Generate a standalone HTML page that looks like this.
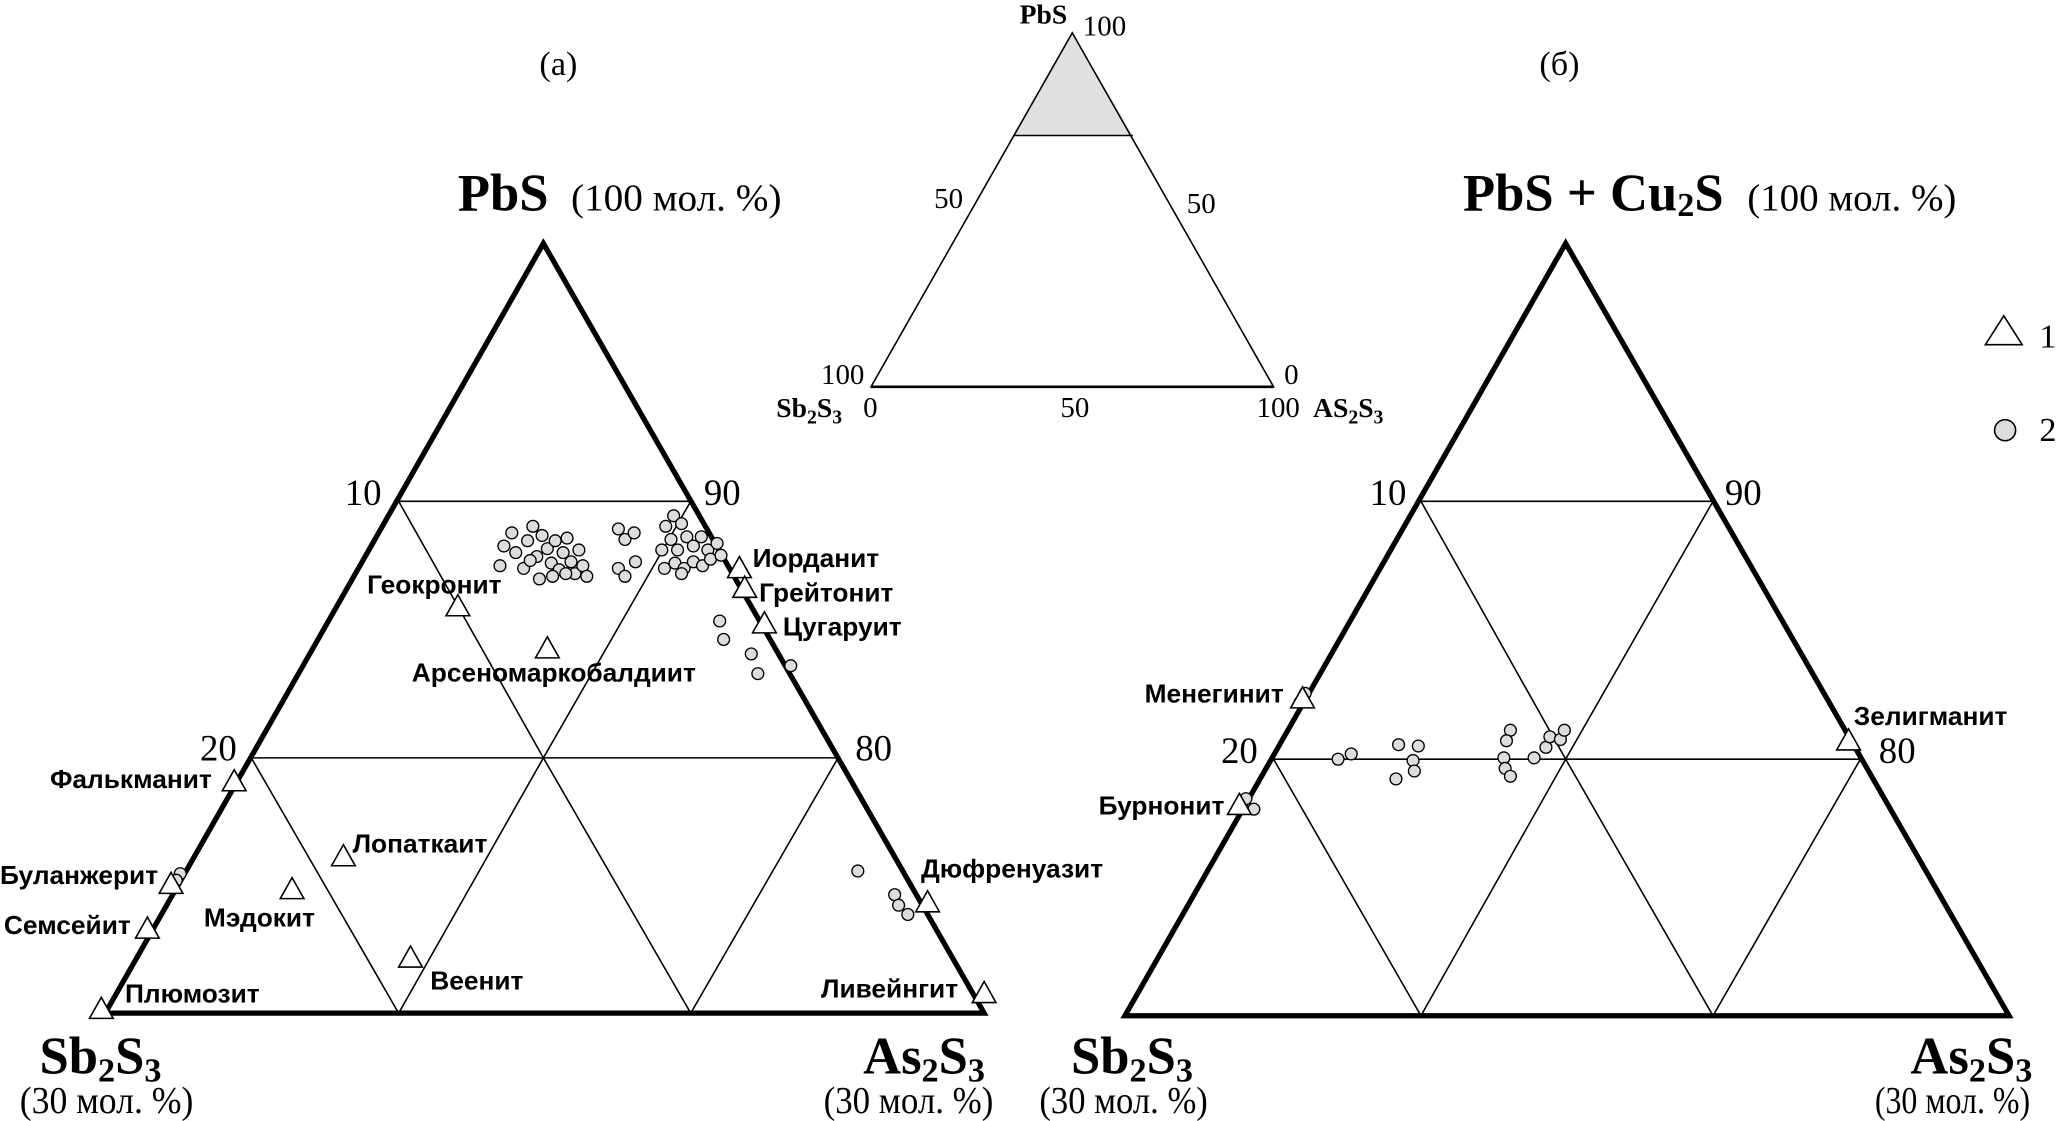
<!DOCTYPE html>
<html><head><meta charset="utf-8"><style>
html,body{margin:0;padding:0;background:#fff}
svg{display:block}
.s{font-family:"Liberation Sans",sans-serif;font-weight:bold;font-size:20px}
.r{font-family:"Liberation Serif",serif;font-size:24px}
.b{font-family:"Liberation Serif",serif;font-weight:bold;font-size:40px}
.m{font-family:"Liberation Serif",serif;font-size:29px}
</style></head><body>
<svg width="2063" height="1121" viewBox="0 0 1568 852" preserveAspectRatio="none" xmlns="http://www.w3.org/2000/svg">
<defs>
<g id="t"><polygon points="0,-9 9,7 -9,7" fill="#fff" stroke="#000" stroke-width="1.2"/></g>
<g id="c"><circle r="4.5" fill="#ddd" stroke="#000" stroke-width="1"/></g>
</defs>
<polygon points="815,25 861,103 770,103" fill="#e0e0e0"/>
<polygon points="815,25 968,294 662,294" fill="none" stroke="#000" stroke-width="1.2"/>
<line x1="770" y1="103" x2="861" y2="103" stroke="#000" stroke-width="1.2"/>
<line x1="662" y1="294" x2="968" y2="294" stroke="#000" stroke-width="2"/>
<text x="775" y="18" class="r" style="font-weight:bold;font-size:21px">PbS</text>
<text x="823" y="27" class="r" style="font-size:22px">100</text>
<text x="710" y="158" class="r" style="font-size:22px">50</text>
<text x="902" y="162" class="r" style="font-size:22px">50</text>
<text x="624" y="292" class="r" style="font-size:22px">100</text>
<text x="976" y="292" class="r" style="font-size:22px">0</text>
<text x="590" y="317" class="r" style="font-weight:bold;font-size:21px">Sb<tspan font-size="15" dy="5">2</tspan><tspan dy="-5">S</tspan><tspan font-size="15" dy="5">3</tspan></text>
<text x="656" y="317" class="r" style="font-size:22px">0</text>
<text x="806" y="317" class="r" style="font-size:22px">50</text>
<text x="955" y="317" class="r" style="font-size:22px">100</text>
<text x="998" y="317" class="r" style="font-weight:bold;font-size:21px">AS<tspan font-size="15" dy="5">2</tspan><tspan dy="-5">S</tspan><tspan font-size="15" dy="5">3</tspan></text>

<text x="410" y="57" class="m" style="font-size:26px">(а)</text>
<text x="1170" y="57" class="m" style="font-size:26px">(б)</text>

<g stroke="#000" fill="none">
<polygon points="413,185 748,770 80,770" stroke-width="4"/>
<g stroke-width="1.2">
<line x1="303" y1="381" x2="525" y2="381"/>
<line x1="191" y1="576" x2="637" y2="576"/>
<polyline points="303,381 413,576 525,381"/>
<polyline points="191,576 303,770 413,576 525,770 637,576"/>
</g>
</g>
<g stroke="#000" fill="none">
<polygon points="1190,185 1527,772 855,772" stroke-width="4"/>
<g stroke-width="1.2">
<line x1="1080" y1="381" x2="1302" y2="381"/>
<line x1="968" y1="577" x2="1414" y2="577"/>
<polyline points="1080,381 1190,577 1302,381"/>
<polyline points="968,577 1080,772 1190,577 1302,772 1414,577"/>
</g>
</g>

<text x="348" y="160" class="b">PbS</text><text x="434" y="160" class="m" textLength="160" lengthAdjust="spacingAndGlyphs">(100 мол. %)</text>
<text x="1112" y="160" class="b">PbS + Cu<tspan font-size="26" dy="4">2</tspan><tspan dy="-4">S</tspan></text><text x="1328" y="160" class="m" textLength="159" lengthAdjust="spacingAndGlyphs">(100 мол. %)</text>

<text x="30" y="816" class="b">Sb<tspan font-size="26" dy="6">2</tspan><tspan dy="-6">S</tspan><tspan font-size="26" dy="6">3</tspan></text>
<text x="15" y="846" class="m" textLength="132" lengthAdjust="spacingAndGlyphs">(30 мол. %)</text>
<text x="656" y="816" class="b">As<tspan font-size="26" dy="6">2</tspan><tspan dy="-6">S</tspan><tspan font-size="26" dy="6">3</tspan></text>
<text x="626" y="846" class="m" textLength="129" lengthAdjust="spacingAndGlyphs">(30 мол. %)</text>
<text x="814" y="816" class="b">Sb<tspan font-size="26" dy="6">2</tspan><tspan dy="-6">S</tspan><tspan font-size="26" dy="6">3</tspan></text>
<text x="790" y="846" class="m" textLength="128" lengthAdjust="spacingAndGlyphs">(30 мол. %)</text>
<text x="1452" y="816" class="b">As<tspan font-size="26" dy="6">2</tspan><tspan dy="-6">S</tspan><tspan font-size="26" dy="6">3</tspan></text>
<text x="1425" y="846" class="m" textLength="118" lengthAdjust="spacingAndGlyphs">(30 мол. %)</text>

<text x="262" y="384" class="r" style="font-size:28px">10</text>
<text x="535" y="384" class="r" style="font-size:28px">90</text>
<text x="152" y="578" class="r" style="font-size:28px">20</text>
<text x="650" y="578" class="r" style="font-size:28px">80</text>
<text x="1041" y="384" class="r" style="font-size:28px">10</text>
<text x="1311" y="384" class="r" style="font-size:28px">90</text>
<text x="928" y="580" class="r" style="font-size:28px">20</text>
<text x="1428" y="580" class="r" style="font-size:28px">80</text>

<polygon points="1523,240 1537,262 1509,262" fill="#fff" stroke="#000" stroke-width="1.2"/>
<text x="1550" y="264" class="r" style="font-size:26px">1</text>
<circle cx="1524" cy="327" r="8" fill="#ddd" stroke="#000" stroke-width="1.2"/>
<text x="1550" y="335" class="r" style="font-size:26px">2</text>

<g>
<use href="#c" x="383" y="415"/><use href="#c" x="380" y="430"/><use href="#c" x="389" y="405"/><use href="#c" x="392" y="420"/><use href="#c" x="398" y="432"/><use href="#c" x="401" y="411"/><use href="#c" x="405" y="400"/><use href="#c" x="408" y="423"/><use href="#c" x="410" y="440"/><use href="#c" x="412" y="407"/><use href="#c" x="416" y="417"/><use href="#c" x="419" y="428"/><use href="#c" x="422" y="411"/><use href="#c" x="425" y="433"/><use href="#c" x="428" y="420"/><use href="#c" x="431" y="409"/><use href="#c" x="434" y="427"/><use href="#c" x="437" y="436"/><use href="#c" x="440" y="418"/><use href="#c" x="443" y="430"/><use href="#c" x="446" y="438"/><use href="#c" x="420" y="438"/><use href="#c" x="403" y="426"/><use href="#c" x="430" y="436"/>
<use href="#c" x="470" y="402"/><use href="#c" x="475" y="410"/><use href="#c" x="482" y="405"/><use href="#c" x="470" y="432"/><use href="#c" x="475" y="438"/><use href="#c" x="483" y="427"/>
<use href="#c" x="512" y="392"/><use href="#c" x="506" y="400"/><use href="#c" x="518" y="398"/><use href="#c" x="510" y="410"/><use href="#c" x="522" y="408"/><use href="#c" x="503" y="418"/><use href="#c" x="515" y="418"/><use href="#c" x="527" y="415"/><use href="#c" x="533" y="408"/><use href="#c" x="538" y="418"/><use href="#c" x="545" y="413"/><use href="#c" x="505" y="432"/><use href="#c" x="513" y="428"/><use href="#c" x="520" y="432"/><use href="#c" x="527" y="427"/><use href="#c" x="534" y="430"/><use href="#c" x="540" y="425"/><use href="#c" x="548" y="422"/><use href="#c" x="518" y="436"/>
<use href="#c" x="547" y="472"/><use href="#c" x="550" y="486"/><use href="#c" x="571" y="497"/><use href="#c" x="576" y="512"/><use href="#c" x="601" y="506"/>
<use href="#c" x="652" y="662"/><use href="#c" x="680" y="680"/><use href="#c" x="683" y="688"/><use href="#c" x="690" y="695"/>
<use href="#c" x="137" y="664"/><use href="#c" x="134" y="669"/><use href="#c" x="131" y="675"/>
</g>
<use href="#t" x="348" y="461"/><use href="#t" x="416" y="493"/><use href="#t" x="562" y="432"/><use href="#t" x="566" y="447"/><use href="#t" x="581" y="474"/>
<use href="#t" x="178" y="594"/><use href="#t" x="261" y="651"/><use href="#t" x="222" y="676"/><use href="#t" x="112" y="706"/><use href="#t" x="312" y="728"/><use href="#t" x="77" y="767"/><use href="#t" x="705" y="686"/><use href="#t" x="748" y="755"/><use href="#t" x="130" y="672"/>
<text x="279" y="451" class="s">Геокронит</text>
<text x="313" y="518" class="s">Арсеномаркобалдиит</text>
<text x="572" y="431" class="s">Иорданит</text>
<text x="577" y="457" class="s">Грейтонит</text>
<text x="595" y="483" class="s">Цугаруит</text>
<text x="38" y="599" class="s">Фалькманит</text>
<text x="268" y="648" class="s">Лопаткаит</text>
<text x="0" y="672" class="s">Буланжерит</text>
<text x="155" y="704" class="s">Мэдокит</text>
<text x="3" y="710" class="s">Семсейит</text>
<text x="327" y="752" class="s">Веенит</text>
<text x="95" y="762" class="s">Плюмозит</text>
<text x="700" y="667" class="s">Дюфренуазит</text>
<text x="624" y="758" class="s">Ливейнгит</text>
<g>
<use href="#c" x="992" y="527"/><use href="#c" x="988" y="534"/>
<use href="#c" x="947" y="607"/><use href="#c" x="953" y="615"/>
<use href="#c" x="1017" y="577"/><use href="#c" x="1027" y="573"/><use href="#c" x="1063" y="566"/><use href="#c" x="1078" y="567"/><use href="#c" x="1074" y="578"/><use href="#c" x="1061" y="592"/><use href="#c" x="1075" y="586"/>
<use href="#c" x="1148" y="555"/><use href="#c" x="1145" y="563"/><use href="#c" x="1143" y="576"/><use href="#c" x="1144" y="584"/><use href="#c" x="1148" y="590"/><use href="#c" x="1166" y="576"/><use href="#c" x="1175" y="568"/><use href="#c" x="1178" y="560"/><use href="#c" x="1186" y="562"/><use href="#c" x="1189" y="555"/>
</g>
<use href="#t" x="990" y="531"/><use href="#t" x="942" y="612"/><use href="#t" x="1405" y="563"/>
<text x="870" y="534" class="s">Менегинит</text>
<text x="835" y="619" class="s">Бурнонит</text>
<text x="1409" y="551" class="s">Зелигманит</text>
</svg>
</body></html>
